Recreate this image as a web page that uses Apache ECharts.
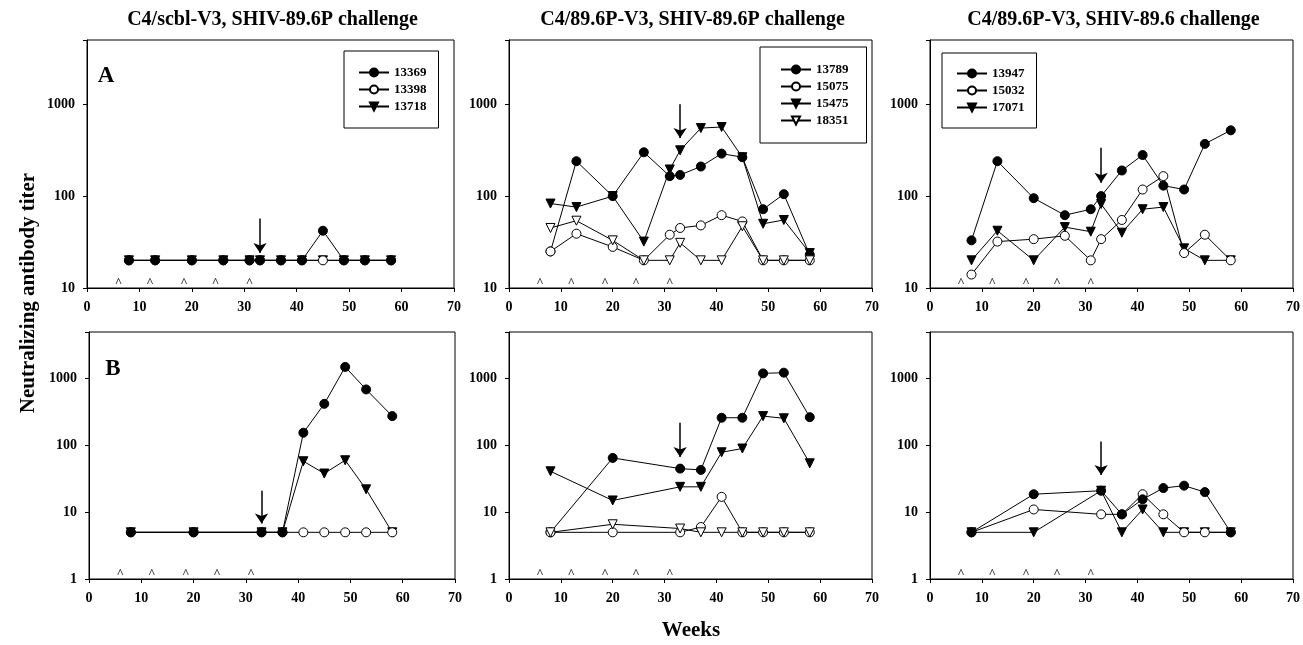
<!DOCTYPE html>
<html>
<head>
<meta charset="utf-8">
<script src="https://cdn.jsdelivr.net/npm/echarts@6/dist/echarts.min.js"></script>
<style>
    html, body { margin: 0; padding: 0; background: #fff; }
    #main { width: 1303px; height: 645px; }
</style>
</head>
<body>
<div id="main"></div>
<script>
// sampling weeks
var weeksTop = [8, 13, 20, 26, 31, 33, 37, 41, 45, 49, 53, 58];
var weeksBottom = [8, 20, 33, 37, 41, 45, 49, 53, 58];
var caretWeeks = [6, 12, 18.5, 24.5, 31];
var arrowWeek = 33;

var panelTitles = ['C4/scbl-V3, SHIV-89.6P challenge', 'C4/89.6P-V3, SHIV-89.6P challenge', 'C4/89.6P-V3, SHIV-89.6 challenge'];
var yTicks = [1, 10, 100, 1000];

// A row (top)
var a1_13369 = [20, 20, 20, 20, 20, 20, 20, 20, 42, 20, 20, 20];
var a1_13398 = [20, 20, 20, 20, 20, 20, 20, 20, 20, 20, 20, 20];
var a1_13718 = [20, 20, 20, 20, 20, 20, 20, 20, 20, 20, 20, 20];

var a2_13789 = [25, 240, 100, 300, 165, 170, 210, 290, 265, 72, 105, 23];
var a2_15075 = [25, 39, 28, 20, 38, 45, 48, 62, 53, 20, 20, 20];
var a2_15475 = [83, 76, 100, 32, 195, 315, 550, 565, 265, 50, 55, 24];
var a2_18351 = [45, 54, 33, 20, 20, 31, 20, 20, 47, 20, 20, 20];

var a3_13947 = [33, 240, 95, 62, 72, 100, 190, 280, 130, 118, 370, 520];
var a3_15032 = [14, 32, 34, 37, 20, 34, 55, 118, 165, 24, 38, 20];
var a3_17071 = [20, 42, 20, 46, 41, 82, 40, 72, 76, 27, 20, 20];

// B row (bottom)
var b1_13369 = [5, 5, 5, 5, 155, 420, 1500, 690, 275];
var b1_13398 = [5, 5, 5, 5, 5, 5, 5, 5, 5];
var b1_13718 = [5, 5, 5, 5, 58, 38, 60, 22, 5];

var b2_13789 = [5, 65, 45, 43, 260, 260, 1200, 1230, 265];
var b2_15075 = [5, 5, 5, 6, 17, 5, 5, 5, 5];
var b2_15475 = [41, 15, 24, 24, 79, 90, 275, 255, 54];
var b2_18351 = [5, 6.6, 5.7, 5, 5, 5, 5, 5, 5];

var b3_13947 = [5, 18.6, 21, 9.3, 15.6, 23, 25, 20, 5];
var b3_15032 = [5, 11, 9.3, 9.3, 18.6, 9.3, 5, 5, 5];
var b3_17071 = [5, 5, 21, 5, 11, 5, 5, 5, 5];

// arrow (challenge) : [tail, tip] titer
var arrowsTop = [[57, 24], [1000, 430], [335, 140]];
var arrowsBottom = [[21, 6.8], [218, 67], [115, 36]];

var FONT = "'Liberation Serif', 'DejaVu Serif', serif";

var grids = [
    {left: 87, top: 40, width: 367, height: 248},
    {left: 509, top: 40, width: 363, height: 248},
    {left: 930, top: 40, width: 363, height: 248},
    {left: 89, top: 332, width: 366, height: 247},
    {left: 509, top: 332, width: 363, height: 247},
    {left: 930, top: 332, width: 363, height: 247}
];

function symbolOf(kind) {
    if (kind == 'dot') return {symbol: 'circle', size: 9, rotate: 0, fill: '#000'};
    if (kind == 'ring') return {symbol: 'circle', size: 9, rotate: 0, fill: '#fff'};
    if (kind == 'tri') return {symbol: 'triangle', size: 9, rotate: 180, fill: '#000'};
    return {symbol: 'triangle', size: 9, rotate: 180, fill: '#fff'};
}

function makeSeries(name, weeks, values, kind, gi) {
    var s = symbolOf(kind);
    var data = [];
    for (var i = 0; i < weeks.length; i++) {
        data.push([weeks[i], values[i]]);
    }
    return {
        name: name,
        type: 'line',
        xAxisIndex: gi,
        yAxisIndex: gi,
        data: data,
        symbol: s.symbol,
        symbolSize: s.size,
        symbolRotate: s.rotate,
        showAllSymbol: true,
        lineStyle: {color: '#000', width: 1},
        itemStyle: {color: s.fill, borderColor: '#000', borderWidth: 1},
        emphasis: {disabled: true},
        z: 3
    };
}

// small "^" marks (immunizations) just above the x axis
function caretSeries(gi, yMin) {
    var data = [];
    for (var i = 0; i < caretWeeks.length; i++) data.push([caretWeeks[i], yMin]);
    return {
        type: 'scatter',
        xAxisIndex: gi,
        yAxisIndex: gi,
        data: data,
        symbolSize: 1,
        itemStyle: {color: 'rgba(0,0,0,0)'},
        label: {show: true, formatter: '^', position: 'top', distance: -2,
            fontFamily: FONT, fontWeight: 'bold', fontSize: 13, color: '#000'},
        emphasis: {disabled: true},
        silent: true
    };
}

// challenge arrow
function arrowSeries(gi, arrow) {
    return {
        type: 'line',
        xAxisIndex: gi,
        yAxisIndex: gi,
        data: [],
        silent: true,
        markLine: {
            silent: true,
            symbol: ['none', 'arrow'],
            symbolSize: 10,
            label: {show: false},
            lineStyle: {color: '#000', width: 1.5, type: 'solid'},
            emphasis: {disabled: true},
            data: [[{coord: [arrowWeek, arrow[0]]}, {coord: [arrowWeek, arrow[1]]}]]
        }
    };
}

var xAxes = [], yAxes = [];
for (var g = 0; g < 6; g++) {
    xAxes.push({
        type: 'value', gridIndex: g, min: 0, max: 70, interval: 10,
        axisLine: {lineStyle: {color: '#000', width: 1}},
        axisTick: {show: true, inside: false, length: 4, lineStyle: {color: '#000'}},
        axisLabel: {margin: 12, fontFamily: FONT, fontWeight: 'bold', fontSize: 14, color: '#000'},
        splitLine: {show: false}
    });
    yAxes.push({
        type: 'log', logBase: 10, gridIndex: g, min: g < 3 ? 10 : 1, max: 5000,
        axisLine: {show: true, lineStyle: {color: '#000', width: 1}},
        axisTick: {show: true, length: 4, lineStyle: {color: '#000'}},
        axisLabel: {margin: 12, fontFamily: FONT, fontWeight: 'bold', fontSize: 14, color: '#000',
            formatter: function (v) {
                for (var k = 0; k < yTicks.length; k++) {
                    if (Math.abs(v - yTicks[k]) < 1e-6 * yTicks[k]) return String(yTicks[k]);
                }
                return '';
            }},
        splitLine: {show: false}
    });
}

var series = [
    // top left
    makeSeries('13718', weeksTop, a1_13718, 'tri', 0),
    makeSeries('13398', weeksTop, a1_13398, 'ring', 0),
    makeSeries('13369', weeksTop, a1_13369, 'dot', 0),
    // top middle
    makeSeries('13789', weeksTop, a2_13789, 'dot', 1),
    makeSeries('15475', weeksTop, a2_15475, 'tri', 1),
    makeSeries('15075', weeksTop, a2_15075, 'ring', 1),
    makeSeries('18351', weeksTop, a2_18351, 'otri', 1),
    // top right
    makeSeries('17071', weeksTop, a3_17071, 'tri', 2),
    makeSeries('15032', weeksTop, a3_15032, 'ring', 2),
    makeSeries('13947', weeksTop, a3_13947, 'dot', 2),
    // bottom left
    makeSeries('13718', weeksBottom, b1_13718, 'tri', 3),
    makeSeries('13398', weeksBottom, b1_13398, 'ring', 3),
    makeSeries('13369', weeksBottom, b1_13369, 'dot', 3),
    // bottom middle
    makeSeries('13789', weeksBottom, b2_13789, 'dot', 4),
    makeSeries('15475', weeksBottom, b2_15475, 'tri', 4),
    makeSeries('15075', weeksBottom, b2_15075, 'ring', 4),
    makeSeries('18351', weeksBottom, b2_18351, 'otri', 4),
    // bottom right
    makeSeries('17071', weeksBottom, b3_17071, 'tri', 5),
    makeSeries('15032', weeksBottom, b3_15032, 'ring', 5),
    makeSeries('13947', weeksBottom, b3_13947, 'dot', 5)
];
for (var g = 0; g < 6; g++) {
    series.push(caretSeries(g, g < 3 ? 10 : 1));
    series.push(arrowSeries(g, g < 3 ? arrowsTop[g] : arrowsBottom[g - 3]));
}

var legendBase = {
    orient: 'vertical',
    itemWidth: 30,
    itemHeight: 10,
    itemGap: 4,
    borderColor: '#000',
    borderWidth: 1,
    backgroundColor: '#fff',
    selectedMode: false,
    textStyle: {fontFamily: FONT, fontWeight: 'bold', fontSize: 13, lineHeight: 13, color: '#000'}
};
function makeLegend(names, left, top, padding) {
    var l = {};
    for (var k in legendBase) l[k] = legendBase[k];
    l.data = names;
    l.left = left;
    l.top = top;
    l.padding = padding;
    return l;
}

var gridOpts = [];
for (var g = 0; g < 6; g++) {
    gridOpts.push({
        left: grids[g].left, top: grids[g].top, width: grids[g].width, height: grids[g].height,
        show: true, borderColor: '#000', borderWidth: 1, backgroundColor: 'transparent',
        containLabel: false, outerBoundsMode: 'none'
    });
}

var texts = [];
for (var t = 0; t < 3; t++) {
    texts.push({
        type: 'text', x: grids[t].left + grids[t].width / 2 + 2, y: 20,
        style: {text: panelTitles[t], fontFamily: FONT, fontWeight: 'bold', fontSize: 20,
            fill: '#000', textAlign: 'center', textVerticalAlign: 'middle'}
    });
}
texts.push({type: 'text', x: 106, y: 76,
    style: {text: 'A', fontFamily: FONT, fontWeight: 'bold', fontSize: 23, fill: '#000', textAlign: 'center', textVerticalAlign: 'middle'}});
texts.push({type: 'text', x: 113, y: 369,
    style: {text: 'B', fontFamily: FONT, fontWeight: 'bold', fontSize: 23, fill: '#000', textAlign: 'center', textVerticalAlign: 'middle'}});
texts.push({type: 'text', x: 29, y: 293, rotation: Math.PI / 2,
    style: {text: 'Neutralizing antibody titer', fontFamily: FONT, fontWeight: 'bold', fontSize: 21,
        fill: '#000', textAlign: 'center', textVerticalAlign: 'middle'}});
texts.push({type: 'text', x: 691, y: 631,
    style: {text: 'Weeks', fontFamily: FONT, fontWeight: 'bold', fontSize: 21,
        fill: '#000', textAlign: 'center', textVerticalAlign: 'middle'}});

var myChart = echarts.init(document.getElementById('main'), null, {renderer: 'canvas'});
myChart.setOption({
    animation: false,
    backgroundColor: '#fff',
    grid: gridOpts,
    xAxis: xAxes,
    yAxis: yAxes,
    legend: [
        makeLegend(['13369', '13398', '13718'], 344, 51, [15, 12, 15, 14]),
        makeLegend(['13789', '15075', '15475', '18351'], 760, 47, [16, 18, 16, 20]),
        makeLegend(['13947', '15032', '17071'], 942, 53, [14, 12, 14, 14])
    ],
    graphic: texts,
    series: series
});
</script>
</body>
</html>
